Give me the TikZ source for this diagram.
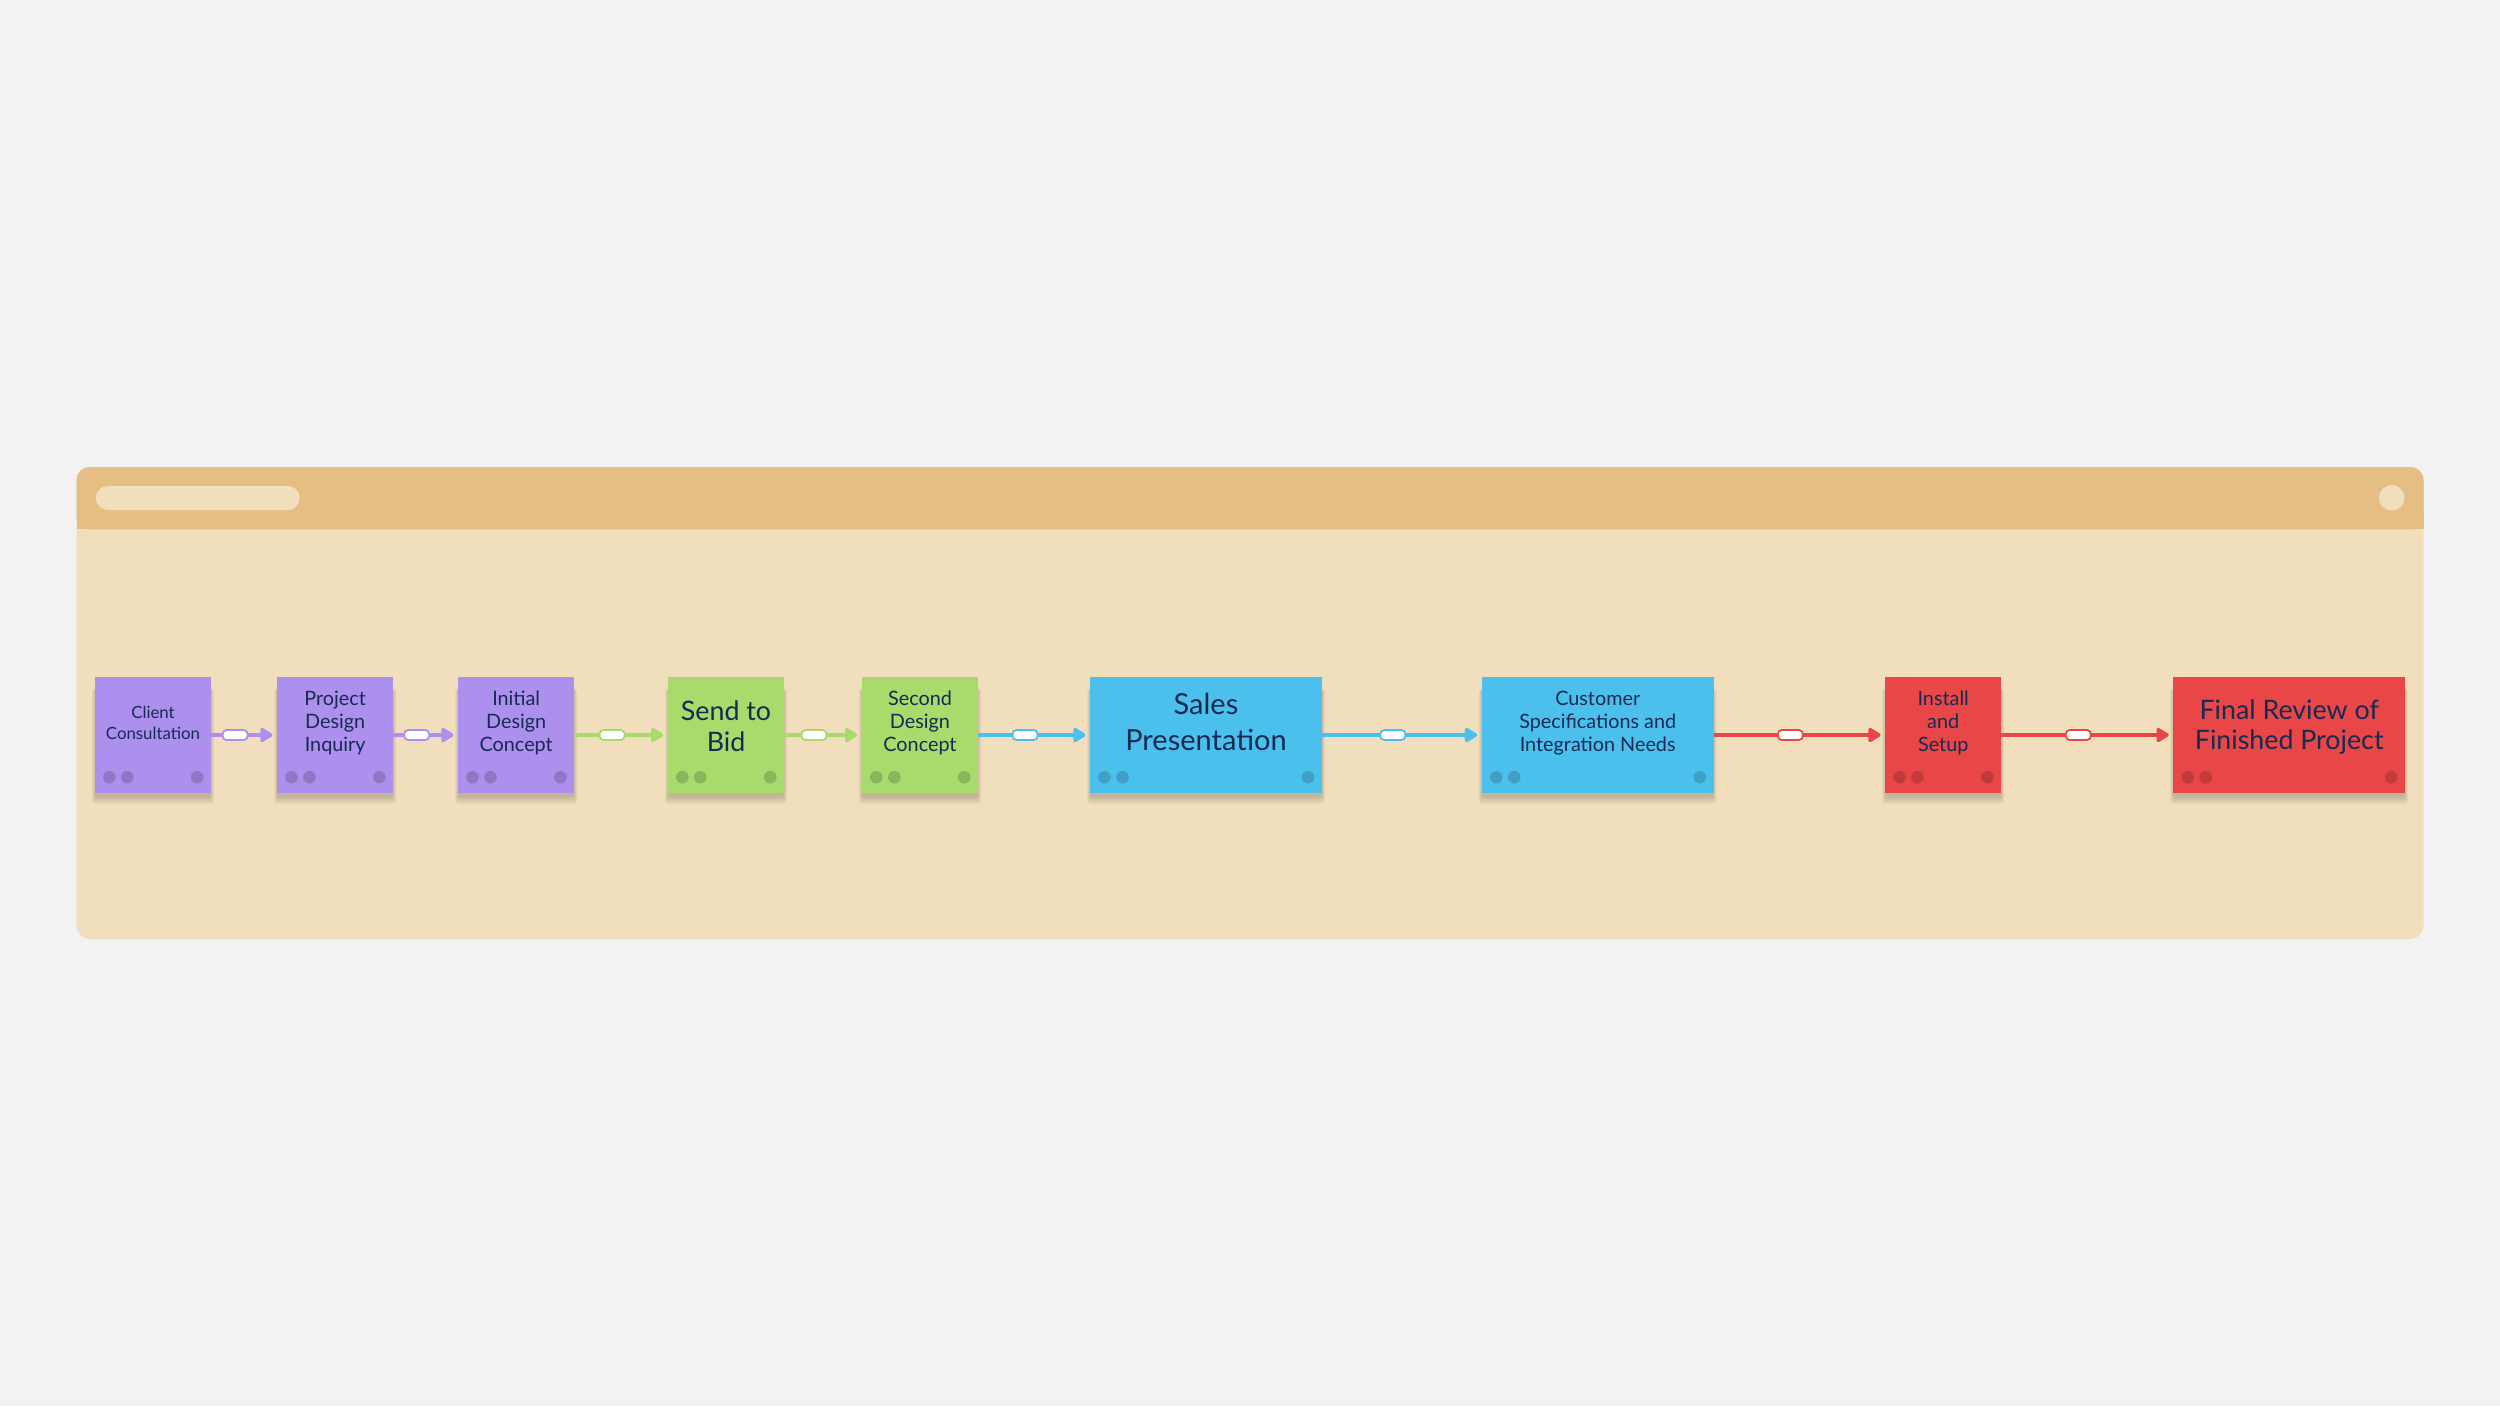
\documentclass[tikz,border=0pt]{standalone}
\usepackage{fontspec}
\setmainfont{Lato}
\usetikzlibrary{arrows.meta,calc}
\definecolor{bgc}{RGB}{242,242,242}
\definecolor{framec}{RGB}{241,222,189}
\definecolor{headc}{RGB}{228,190,130}
\definecolor{purp}{RGB}{173,143,238}
\definecolor{grn}{RGB}{168,218,108}
\definecolor{blu}{RGB}{76,192,236}
\definecolor{redc}{RGB}{233,70,72}
\definecolor{navy}{RGB}{22,43,82}
\pgfdeclarelayer{framelayer}
\pgfdeclarelayer{shadowlayer}
\pgfsetlayers{framelayer,shadowlayer,main}
\tikzset{
  boxshape/.style={rectangle, minimum height=116pt, inner sep=0pt, draw=none},
  steptext/.style={text=navy, align=center, inner sep=0pt},
  small/.style={font=\fontsize{16.8}{20.7}\selectfont},
  medium/.style={font=\fontsize{19.8}{23.3}\selectfont},
  large/.style={font=\fontsize{26.8}{30.5}\selectfont},
  xlarge/.style={font=\fontsize{29}{35.7}\selectfont},
  conn/.style={line width=3.5pt, -{Triangle[length=14pt,width=16pt,round]}, shorten >=4.5pt},
  tag/.style={draw, line width=1.8pt, fill=white, rounded corners=4pt, minimum width=25pt, minimum height=10pt, inner sep=0pt},
}
\newcommand\boxdeco[2]{%
  \begin{pgfonlayer}{shadowlayer}
    \foreach \i in {1,...,8}
      \fill[black, opacity=0.022, rounded corners=3pt] ($(#1.south west)+(-0.5*\i+1,3+\i)$) rectangle ($(#1.north east)+(0.5*\i-1,12)$);
  \end{pgfonlayer}
  \fill[#2!83!black] ($(#1.south west)+(14.5,-16)$) circle (6.3);
  \fill[#2!83!black] ($(#1.south west)+(32.5,-16)$) circle (6.3);
  \fill[#2!83!black] ($(#1.south east)+(-14,-16)$) circle (6.3);
}
\begin{document}
\begin{tikzpicture}[x=1pt,y=-1pt]
\useasboundingbox (0,0) rectangle (2500,1406);
\begin{pgfonlayer}{framelayer}
\fill[bgc] (0,0) rectangle (2500,1406);
\fill[framec, rounded corners=13pt] (76.5,467) rectangle (2423.5,939);
\fill[headc, rounded corners=13pt] (76.5,467) rectangle (2423.5,529.3);
\fill[headc] (76.5,510) rectangle (2423.5,529.3);
\fill[framec, rounded corners=12pt] (95.7,486) rectangle (299.7,510);
\fill[framec] (2391.8,497.8) circle (12.8);
\end{pgfonlayer}

% boxes
\node[boxshape, fill=purp, minimum width=116pt] (b1) at (153,735) {};
\node[boxshape, fill=purp, minimum width=116pt] (b2) at (335.2,735) {};
\node[boxshape, fill=purp, minimum width=116pt] (b3) at (516.2,735) {};
\node[boxshape, fill=grn, minimum width=116pt] (b4) at (726,735) {};
\node[boxshape, fill=grn, minimum width=116pt] (b5) at (920,735) {};
\node[boxshape, fill=blu, minimum width=231.6pt] (b6) at (1206,735) {};
\node[boxshape, fill=blu, minimum width=231.6pt] (b7) at (1597.7,735) {};
\node[boxshape, fill=redc, minimum width=116pt] (b8) at (1943.2,735) {};
\node[boxshape, fill=redc, minimum width=231.6pt] (b9) at (2289.2,735) {};

\boxdeco{b1}{purp}\boxdeco{b2}{purp}\boxdeco{b3}{purp}
\boxdeco{b4}{grn}\boxdeco{b5}{grn}
\boxdeco{b6}{blu}\boxdeco{b7}{blu}
\boxdeco{b8}{redc}\boxdeco{b9}{redc}

% texts
\node[steptext, small] (t1) at ($(b1.center)+(0,-12)$) {Client\\Consultation};
\node[steptext, medium] (t2) at ($(b2.center)+(0,-12)$) {Project\\Design\\Inquiry};
\node[steptext, medium] (t3) at ($(b3.center)+(0,-12)$) {Initial\\Design\\Concept};
\node[steptext, large] (t4) at ($(b4.center)+(0,-9)$) {Send to\\Bid};
\node[steptext, medium] (t5) at ($(b5.center)+(0,-12)$) {Second\\Design\\Concept};
\node[steptext, xlarge] (t6) at ($(b6.center)+(0,-13)$) {Sales\\Presentation};
\node[steptext, medium] (t7) at ($(b7.center)+(0,-12)$) {Customer\\Specifications and\\Integration Needs};
\node[steptext, medium] (t8) at ($(b8.center)+(0,-12)$) {Install\\and\\Setup};
\node[steptext, large] (t9) at ($(b9.center)+(0,-8)$) {Final Review of\\Finished Project};

% connectors
\foreach \a/\b/\c in {b1/b2/purp, b2/b3/purp, b3/b4/grn, b4/b5/grn, b5/b6/blu, b6/b7/blu, b7/b8/redc, b8/b9/redc}{
  \draw[conn, \c] (\a.east) -- (\b.west);
  \node[tag, draw=\c] at ($(\a.east)!0.5!(\b.west)+(-9,0)$) {};
}
\end{tikzpicture}
\end{document}
